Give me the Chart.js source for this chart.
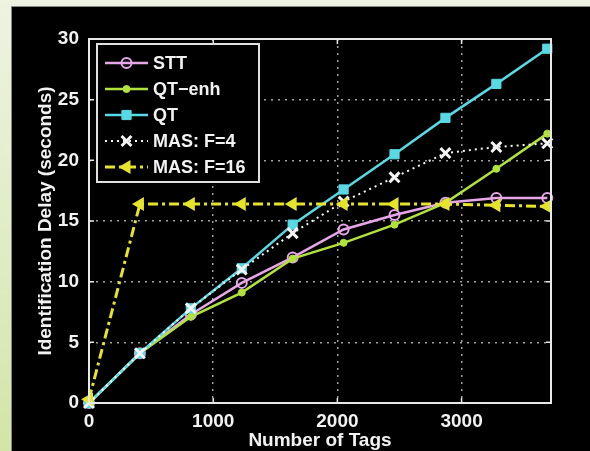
<!DOCTYPE html>
<html>
<head>
<meta charset="utf-8">
<script src="https://cdn.jsdelivr.net/npm/chart.js@4.4.0/dist/chart.umd.min.js"></script>
<style>
  html, body { margin: 0; padding: 0; }
  body {
    width: 590px; height: 451px; overflow: hidden;
    background: linear-gradient(180deg, #eef3e2 0%, #dfebc2 60%, #d3e5a6 100%);
    position: relative;
  }
  #panel {
    position: absolute; left: 11px; top: 6px;
    width: 579px; height: 445px; background: #000;
    border-top: 1px solid #8a8a80; border-left: 1px solid #8a8a80;
    box-sizing: border-box;
  }
  #c { position: absolute; left: -1px; top: -1px; }
</style>
</head>
<body>
<div id="panel"><canvas id="c" width="579" height="445"></canvas></div>
<script>
// data
const tags = [0, 410, 820, 1230, 1640, 2050, 2460, 2870, 3280, 3690];
const stt    = [0, 4.1, 7.3, 9.9, 12.0, 14.3, 15.5, 16.5, 16.9, 16.9];
const qtEnh  = [0, 4.1, 7.1, 9.1, 11.9, 13.2, 14.7, 16.5, 19.3, 22.2];
const qt     = [0, 4.1, 7.8, 11.1, 14.7, 17.6, 20.5, 23.5, 26.3, 29.2];
const mas4   = [0, 4.1, 7.8, 11.0, 14.0, 16.6, 18.6, 20.6, 21.1, 21.4];
const mas16  = [0.3, 16.4, 16.4, 16.4, 16.4, 16.4, 16.4, 16.4, 16.3, 16.2];
const seriesNames = ['STT', 'QT\u2212enh', 'QT', 'MAS: F=4', 'MAS: F=16'];
const xTicks = [0, 1000, 2000, 3000];
const yTicks = [0, 5, 10, 15, 20, 25, 30];

const FONT = { family: 'Liberation Sans', size: 19, weight: 'bold', lineHeight: 1 };

const pts = arr => arr.map((v, i) => ({ x: tags[i], y: v }));

// marker drawing used by the legend
function marker(ctx, ds, x, y) {
  const r = ds.pointRadius;
  ctx.save();
  ctx.lineWidth = ds.pointBorderWidth;
  ctx.strokeStyle = ds.pointBorderColor;
  ctx.fillStyle = ds.pointBackgroundColor;
  ctx.setLineDash([]);
  ctx.beginPath();
  if (ds.pointStyle === 'circle') {
    ctx.arc(x, y, r, 0, Math.PI * 2);
    ctx.fill(); ctx.stroke();
  } else if (ds.pointStyle === 'rect') {
    const s = r * Math.SQRT1_2;
    ctx.rect(x - s, y - s, 2 * s, 2 * s);
    ctx.fill(); ctx.stroke();
  } else if (ds.pointStyle === 'crossRot') {
    const s = r * Math.SQRT1_2;
    ctx.moveTo(x - s, y - s); ctx.lineTo(x + s, y + s);
    ctx.moveTo(x + s, y - s); ctx.lineTo(x - s, y + s);
    ctx.stroke();
  } else if (ds.pointStyle === 'triangle') {
    ctx.moveTo(x - r, y);
    ctx.lineTo(x + r * 0.5, y - r * 0.87);
    ctx.lineTo(x + r * 0.5, y + r * 0.87);
    ctx.closePath();
    ctx.fill(); ctx.stroke();
  }
  ctx.restore();
}

const framePlugin = {
  id: 'frame',
  afterDatasetsDraw(chart) {
    const { ctx, chartArea: a, scales } = chart;
    ctx.save();
    ctx.strokeStyle = '#e8e8e8';
    ctx.lineWidth = 2;
    ctx.setLineDash([]);
    ctx.strokeRect(a.left, a.top, a.right - a.left, a.bottom - a.top);
    ctx.lineWidth = 1.5;
    ctx.beginPath();
    xTicks.forEach(v => {
      const px = scales.x.getPixelForValue(v);
      ctx.moveTo(px, a.bottom); ctx.lineTo(px, a.bottom - 5);
      ctx.moveTo(px, a.top); ctx.lineTo(px, a.top + 5);
    });
    yTicks.forEach(v => {
      const py = scales.y.getPixelForValue(v);
      ctx.moveTo(a.left, py); ctx.lineTo(a.left + 5, py);
      ctx.moveTo(a.right, py); ctx.lineTo(a.right - 5, py);
    });
    ctx.stroke();

    // legend box inside the plot, top left
    const bx = a.left + 8, by = a.top + 5, bw = 162, bh = 138;
    ctx.fillStyle = '#000';
    ctx.fillRect(bx, by, bw, bh);
    ctx.strokeStyle = '#e0e0e0';
    ctx.lineWidth = 2;
    ctx.strokeRect(bx, by, bw, bh);
    ctx.font = 'bold 18px "Liberation Sans"';
    ctx.textBaseline = 'middle';
    ctx.textAlign = 'left';
    chart.data.datasets.forEach((ds, i) => {
      const y = by + 19 + i * 26;
      const x0 = a.left + 16, x1 = a.left + 59;
      ctx.save();
      ctx.strokeStyle = ds.borderColor;
      ctx.lineWidth = ds.borderWidth;
      ctx.setLineDash(ds.borderDash || []);
      ctx.beginPath();
      ctx.moveTo(x0, y); ctx.lineTo(x1, y);
      ctx.stroke();
      ctx.restore();
      marker(ctx, ds, (x0 + x1) / 2, y);
      ctx.fillStyle = '#f2f2f2';
      ctx.fillText(seriesNames[i], a.left + 64, y + 1);
    });
    ctx.restore();
  }
};

const PINK = '#e7a6e8', GREEN = '#b2e23e', CYAN = '#58d9e4', WHITE = '#f4f4f4', YELLOW = '#e6e42a';

new Chart(document.getElementById('c'), {
  type: 'line',
  data: {
    datasets: [
      { label: seriesNames[0], data: pts(stt), borderColor: PINK, borderWidth: 2.5,
        pointStyle: 'circle', pointRadius: 5, pointBorderWidth: 2,
        pointBorderColor: PINK, pointBackgroundColor: 'rgba(0,0,0,0)', order: 4 },
      { label: seriesNames[1], data: pts(qtEnh), borderColor: GREEN, borderWidth: 2.5,
        pointStyle: 'circle', pointRadius: 3.5, pointBorderWidth: 1,
        pointBorderColor: GREEN, pointBackgroundColor: GREEN, order: 3 },
      { label: seriesNames[2], data: pts(qt), borderColor: CYAN, borderWidth: 2.5,
        pointStyle: 'rect', pointRadius: 6.5, pointBorderWidth: 1,
        pointBorderColor: CYAN, pointBackgroundColor: CYAN, order: 2 },
      { label: seriesNames[3], data: pts(mas4), borderColor: WHITE, borderWidth: 2,
        borderDash: [2, 4], pointStyle: 'crossRot', pointRadius: 7, pointBorderWidth: 3,
        pointBorderColor: WHITE, pointBackgroundColor: WHITE, order: 1 },
      { label: seriesNames[4], data: pts(mas16), borderColor: YELLOW, borderWidth: 3,
        borderDash: [10, 4, 3, 4], pointStyle: 'triangle', pointRotation: -90,
        pointRadius: 6, pointBorderWidth: 2,
        pointBorderColor: YELLOW, pointBackgroundColor: YELLOW, order: 0 }
    ]
  },
  options: {
    responsive: false,
    animation: false,
    devicePixelRatio: 1,
    layout: { padding: { top: 33, right: 39, left: 0, bottom: 0 } },
    plugins: { legend: { display: false }, tooltip: { enabled: false } },
    elements: { line: { tension: 0 } },
    datasets: { line: { clip: false } },
    scales: {
      x: {
        type: 'linear', min: 0, max: 3720,
        afterBuildTicks: s => { s.ticks = xTicks.map(v => ({ value: v })); },
        afterFit: s => { s.height = 48; },
        grid: { color: 'rgba(200,200,200,0.8)', lineWidth: 1.5, drawTicks: false },
        border: { display: false, dash: [2, 5] },
        ticks: { color: '#f2f2f2', font: FONT, padding: 9, maxRotation: 0,
                 callback: v => String(v) },
        title: { display: true, text: 'Number of Tags', color: '#f2f2f2', font: FONT,
                 padding: { top: 0, bottom: 1 } }
      },
      y: {
        type: 'linear', min: 0, max: 30,
        afterBuildTicks: s => { s.ticks = yTicks.map(v => ({ value: v })); },
        afterFit: s => { s.width = 78; },
        grid: { color: 'rgba(200,200,200,0.8)', lineWidth: 1.5, drawTicks: false },
        border: { display: false, dash: [2, 5] },
        ticks: { color: '#f2f2f2', font: FONT, padding: 10, callback: v => String(v) },
        title: { display: true, text: 'Identification Delay (seconds)', color: '#f2f2f2',
                 font: FONT, padding: { top: 25, bottom: 0 } }
      }
    }
  },
  plugins: [framePlugin]
});
</script>
</body>
</html>
